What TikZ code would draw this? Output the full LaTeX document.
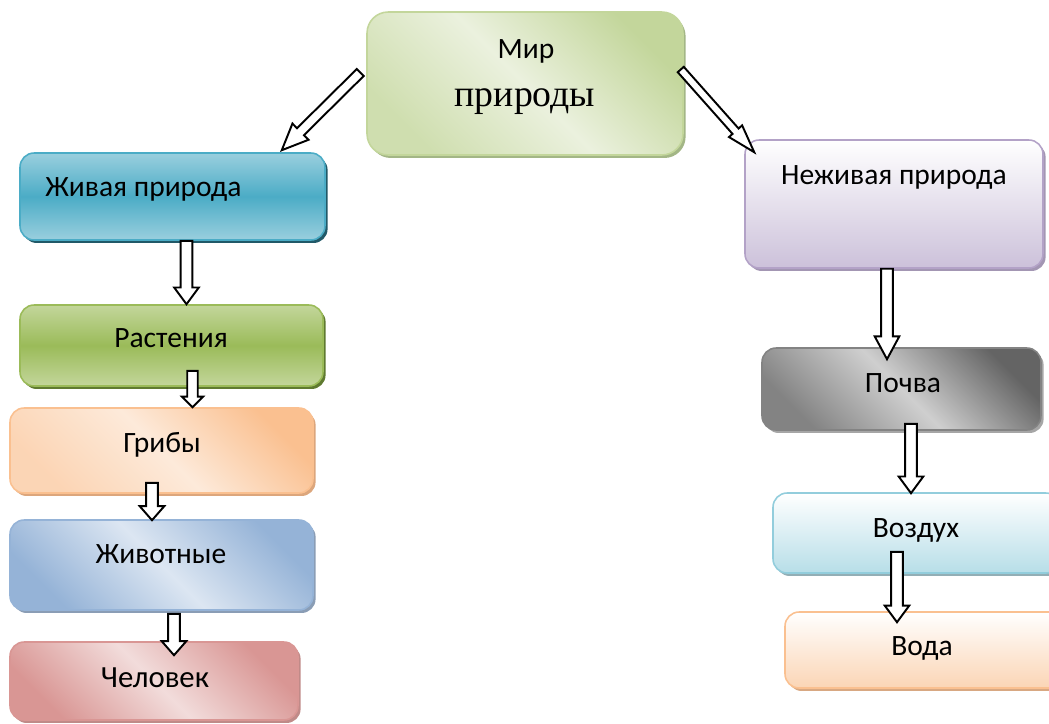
\documentclass[tikz,border=0pt]{standalone}
\usepackage{fontspec}
\setmainfont{Carlito}
\newfontfamily\timesfont{Liberation Serif}
\usetikzlibrary{calc, shadows}

\definecolor{mirdark}{HTML}{C3D69B}
\definecolor{mirlight}{HTML}{EBF1DE}
\definecolor{mirshad}{HTML}{A3B686}
\definecolor{tealdark}{HTML}{4BACC6}
\definecolor{teallight}{HTML}{9ACFDE}
\definecolor{tealshad}{HTML}{215968}
\definecolor{grndark}{HTML}{9BBB59}
\definecolor{grnlight}{HTML}{C3D69B}
\definecolor{grnshad}{HTML}{5F7A30}
\definecolor{orgdark}{HTML}{FAC090}
\definecolor{orglight}{HTML}{FDEADA}
\definecolor{orgshad}{HTML}{DCA67C}
\definecolor{bludark}{HTML}{95B3D7}
\definecolor{blulight}{HTML}{DCE6F2}
\definecolor{blushad}{HTML}{8A9DB5}
\definecolor{reddark}{HTML}{D99694}
\definecolor{redlight}{HTML}{F2DCDB}
\definecolor{redshad}{HTML}{C08A88}
\definecolor{purdark}{HTML}{CCC1DA}
\definecolor{purline}{HTML}{B3A2C7}
\definecolor{purshad}{HTML}{A396B3}
\definecolor{graydark}{HTML}{646464}
\definecolor{graylight}{HTML}{CFCFCF}
\definecolor{grayshad}{HTML}{A6A6A6}
\definecolor{cyndark}{HTML}{B7DEE8}
\definecolor{cynline}{HTML}{92CDDC}
\definecolor{cynshad}{HTML}{93AEB5}
\definecolor{pchdark}{HTML}{FBD5B5}
\definecolor{pchshad}{HTML}{D8A882}

\tikzset{
    % boxes, texts and the hollow arrows
    nd/.style={rectangle, rounded corners=8pt, line width=0.9pt, inner sep=0pt},
    shad/.style={drop shadow={shadow xshift=1.5pt, shadow yshift=-1.7pt,
                 fill=#1, opacity=1}},
    lbl/.style={font=\fontsize{16.8}{20}\selectfont, inner sep=0pt, anchor=base},
    blockarr/.style={draw=black, fill=white, line width=1.1pt, line join=miter},
    arr shaft/.store in=\arrshaft, arr head/.store in=\arrhead,
    arr len/.store in=\arrlen,
    arr shaft=3.3pt, arr head=7pt, arr len=9.5pt,
}

\newcommand{\blockarrow}[3][]{%
  \begin{scope}[#1]
    \path (#2) coordinate (ba-s) (#3) coordinate (ba-e);
    \coordinate (ba-h) at ($(ba-e)!\arrlen!(ba-s)$);
    \draw[blockarr] ($(ba-s)!\arrshaft!90:(ba-e)$)
      -- ($(ba-h)!\arrshaft!90:(ba-e)$) -- ($(ba-h)!\arrhead!90:(ba-e)$)
      -- (ba-e)
      -- ($(ba-h)!\arrhead!-90:(ba-e)$) -- ($(ba-h)!\arrshaft!-90:(ba-e)$)
      -- ($(ba-s)!\arrshaft!-90:(ba-e)$) -- cycle;
  \end{scope}}

\begin{document}
\begin{tikzpicture}[x=0.02cm, y=-0.02cm]
  \useasboundingbox (0,0) rectangle (1049,724);

  % top
  \node[nd, rounded corners=12pt, minimum width=6.32cm, minimum height=2.86cm,
        draw=mirdark, top color=mirdark, bottom color=mirdark!70!mirlight,
        middle color=mirlight, shading angle=-45, shad=mirshad] (mir) at (525,83.5) {};
  \node[lbl] (mir-t1) at (526,58) {Мир};
  \node[lbl, font=\timesfont\fontsize{21.5}{26}\selectfont] (mir-t2) at (525,106) {природы};

  % left column
  \node[nd, minimum width=6.1cm, minimum height=1.74cm, draw=tealdark,
        top color=teallight, bottom color=teallight, middle color=tealdark,
        shad=tealshad] (zhiv) at (172.5,196.5) {};
  \node[lbl, anchor=base west] (zhiv-t) at (45,196) {Живая природа};

  \node[nd, minimum width=6.06cm, minimum height=1.62cm, draw=grndark,
        top color=grnlight, bottom color=grnlight, middle color=grndark,
        shad=grnshad] (rast) at (171.5,345.5) {};
  \node[lbl] (rast-t) at (171,347) {Растения};

  \node[nd, minimum width=6.06cm, minimum height=1.7cm, draw=orgdark,
        top color=orgdark, bottom color=orglight!50!orgdark, middle color=orglight,
        shading angle=-45, shad=orgshad] (griby) at (161.5,450.5) {};
  \node[lbl] (griby-t) at (162,452) {Грибы};

  \node[nd, minimum width=6.06cm, minimum height=1.8cm, draw=bludark,
        top color=bludark, bottom color=bludark, middle color=blulight,
        shading angle=-45, shad=blushad] (zhivot) at (161.5,565) {};
  \node[lbl] (zhivot-t) at (161,563) {Животные};

  \node[nd, minimum width=5.76cm, minimum height=1.56cm, draw=reddark,
        top color=reddark, bottom color=reddark, middle color=redlight,
        shading angle=-45, shad=redshad] (chel) at (154,681) {};
  \node[lbl, font=\fontsize{17.5}{21}\selectfont] (chel-t) at (155,687) {Человек};

  % right column
  \node[nd, minimum width=5.96cm, minimum height=2.56cm, draw=purline,
        top color=white, bottom color=purdark, shad=purshad] (nezh) at (894,204) {};
  \node[lbl] (nezh-t) at (894,184) {Неживая природа};

  \node[nd, minimum width=5.58cm, minimum height=1.64cm, draw=graydark!80,
        top color=graydark, bottom color=graydark!80, middle color=graylight,
        shading angle=-45, shad=grayshad] (pochva) at (901.5,389) {};
  \node[lbl] (pochva-t) at (903,392) {Почва};

  \node[nd, minimum width=5.74cm, minimum height=1.6cm, draw=cynline,
        top color=white, bottom color=cyndark, shad=cynshad] (vozduh) at (916.5,533) {};
  \node[lbl] (vozduh-t) at (916,537) {Воздух};

  \node[nd, minimum width=5.6cm, minimum height=1.52cm, draw=orgdark,
        top color=white, bottom color=pchdark, shad=pchshad] (voda) at (925,650) {};
  \node[lbl] (voda-t) at (922,655) {Вода};

  % arrows
  \blockarrow[arr shaft=2.8pt, arr head=6.5pt, arr len=15pt]
    {$(mir.west)+(-6,-11)$}{$(zhiv.north east)+(-44,-2)$}
  \blockarrow[arr shaft=2.3pt, arr head=5pt, arr len=16pt]
    {$(mir.east)+(-3,-14)$}{$(nezh.north west)+(10,13)$}
  \blockarrow{$(zhiv.south)+(14,0)$}{$(zhiv.south |- rast.north)+(14,0)$}
  \blockarrow[arr shaft=3pt, arr head=6pt, arr len=6pt]
    {$(rast.south)+(21,-16)$}{$(rast.south |- griby.north)+(21,0)$}
  \blockarrow[arr len=8pt]{$(griby.south)+(-9.5,-11)$}{$(griby.south |- zhivot.north)+(-9.5,1)$}
  \blockarrow[arr len=8pt]{$(zhivot.south)+(12.5,3)$}{$(zhivot.south |- chel.north)+(12.5,14)$}
  \blockarrow[arr len=13pt]{$(nezh.south)+(-7,0)$}{$(nezh.south |- pochva.north)+(-7,12)$}
  \blockarrow{$(pochva.south)+(9.5,-7)$}{$(pochva.south |- vozduh.north)+(9.5,1)$}
  \blockarrow{$(vozduh.south)+(-19.5,-22)$}{$(vozduh.south |- voda.north)+(-19.5,11)$}
\end{tikzpicture}
\end{document}
